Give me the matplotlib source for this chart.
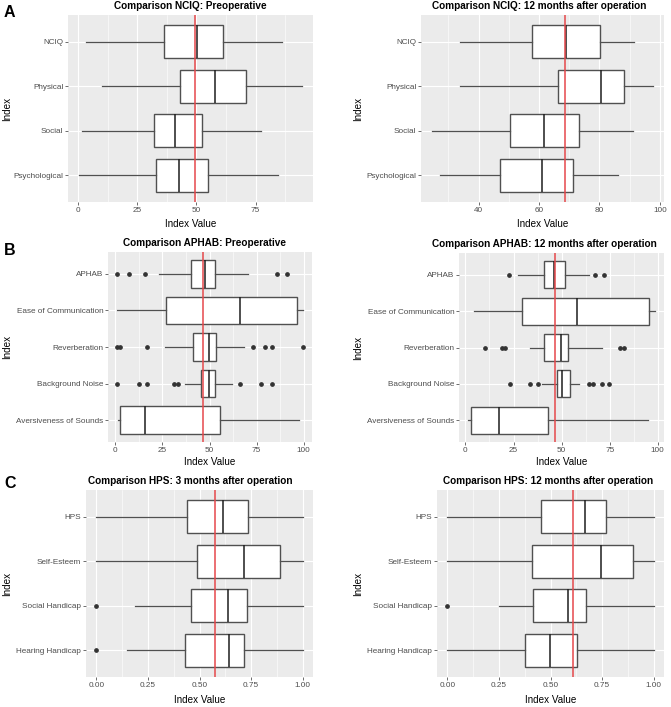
import numpy as np
import matplotlib
matplotlib.use("Agg")
import matplotlib.pyplot as plt
import matplotlib.transforms as mtransforms
from matplotlib.ticker import MultipleLocator

plt.rcParams["font.family"] = ["Liberation Sans", "DejaVu Sans"]

W, H = 671, 707

# A: NCIQ  (each row: whisker low, Q1, median, Q3, whisker high)
nciq_labels = ["NCIQ", "Physical", "Social", "Psychological"]
nciq_pre_stats = [[3.1, 36.5, 50.3, 61.4, 86.0],
                  [10.0, 42.9, 57.7, 71.0, 94.6],
                  [1.8, 32.1, 40.8, 52.3, 77.3],
                  [0.4, 32.7, 42.6, 55.1, 84.7]]
nciq_pre_fliers = [[], [], [], []]
nciq_pre_mean = 49.6
nciq_post_stats = [[33.7, 57.8, 68.8, 80.1, 91.3],
                   [33.7, 66.2, 80.5, 88.1, 97.7],
                   [24.6, 50.3, 61.6, 73.1, 91.1],
                   [27.1, 47.2, 60.9, 71.2, 86.1]]
nciq_post_fliers = [[], [], [], []]
nciq_post_mean = 68.6

# B: APHAB
aphab_labels = ["APHAB", "Ease of Communication", "Reverberation",
                "Background Noise", "Aversiveness of Sounds"]
aphab_pre_stats = [[23.0, 40.2, 47.5, 53.0, 70.4],
                   [1.0, 27.0, 66.3, 96.6, 99.5],
                   [26.6, 41.3, 49.8, 53.7, 68.3],
                   [36.9, 45.6, 49.8, 52.7, 62.2],
                   [1.5, 2.5, 15.8, 55.3, 97.3]]
aphab_pre_fliers = [[1.0, 7.0, 15.8, 86.0, 91.0],
                    [],
                    [1.0, 2.5, 16.8, 73.0, 79.6, 83.2, 99.5],
                    [1.0, 12.8, 16.8, 30.9, 33.2, 66.3, 77.1, 83.2],
                    []]
aphab_pre_mean = 46.6
aphab_post_stats = [[27.4, 41.1, 45.8, 51.7, 64.5],
                    [4.7, 29.4, 58.2, 95.3, 98.4],
                    [33.4, 41.1, 49.8, 53.5, 71.0],
                    [39.7, 47.6, 50.2, 54.2, 59.1],
                    [1.5, 2.8, 17.5, 42.8, 94.9]]
aphab_post_fliers = [[22.4, 67.5, 72.0],
                     [],
                     [10.1, 19.2, 20.5, 80.6, 82.7],
                     [23.3, 33.7, 37.6, 64.0, 66.1, 70.8, 74.5],
                     []]
aphab_post_mean = 46.5

# C: HPS
hps_labels = ["HPS", "Self-Esteem", "Social Handicap", "Hearing Handicap"]
hps_3m_stats = [[0.0, 0.438, 0.613, 0.733, 1.0],
                [0.0, 0.488, 0.714, 0.888, 1.0],
                [0.188, 0.459, 0.636, 0.729, 1.0],
                [0.148, 0.432, 0.644, 0.714, 1.0]]
hps_3m_fliers = [[], [], [0.0], [0.0]]
hps_3m_mean = 0.575
hps_12m_stats = [[0.0, 0.452, 0.668, 0.768, 1.0],
                 [0.0, 0.412, 0.747, 0.902, 1.0],
                 [0.251, 0.417, 0.583, 0.670, 1.0],
                 [0.0, 0.375, 0.499, 0.626, 1.0]]
hps_12m_fliers = [[], [], [0.0], []]
hps_12m_mean = 0.607

ticks_0_75 = [0, 25, 50, 75]
ticks_0_100 = [0, 25, 50, 75, 100]
ticks_40_100 = [40, 60, 80, 100]
ticks_0_1 = [0.0, 0.25, 0.5, 0.75, 1.0]

EDGE = "#505050"


def px_axes(fig, box):
    left, top, right, bottom = box
    return fig.add_axes([left / W, 1 - bottom / H, (right - left) / W, (bottom - top) / H])


def draw_panel(fig, box, labels, stats, fliers, mean, ticks, tick_fmt, title,
               title_x, ylab_x, xlab_y):
    ax = px_axes(fig, box)
    n = len(labels)
    pos = np.arange(n, 0, -1)
    bstats = []
    for s, f in zip(stats, fliers):
        bstats.append({"whislo": s[0], "q1": s[1], "med": s[2], "q3": s[3],
                       "whishi": s[4], "fliers": f})
    ax.bxp(bstats, positions=pos, widths=0.75, orientation="horizontal",
           patch_artist=True, showcaps=False,
           boxprops=dict(facecolor="white", edgecolor=EDGE, linewidth=1.0),
           whiskerprops=dict(color=EDGE, linewidth=0.9),
           medianprops=dict(color="#1E1E1E", linewidth=1.1),
           flierprops=dict(marker="o", markersize=2.4, markerfacecolor="#333333",
                           markeredgecolor="#333333"))
    ax.axvline(mean, color="#E5484B", linewidth=1.1, zorder=4)

    vals = [v for s in stats for v in s] + [v for f in fliers for v in f]
    lo, hi = min(vals), max(vals)
    pad = 0.05 * (hi - lo)
    ax.set_xlim(lo - pad, hi + pad)
    ax.set_ylim(0.4, n + 0.6)

    ax.set_xticks(ticks, [tick_fmt.format(t) for t in ticks])
    step = ticks[1] - ticks[0]
    ax.xaxis.set_minor_locator(MultipleLocator(step / 2))
    ax.set_yticks(pos, labels)

    ax.set_facecolor("#EBEBEB")
    for sp in ax.spines.values():
        sp.set_visible(False)
    ax.set_axisbelow(True)
    ax.grid(True, which="major", color="white", linewidth=0.8)
    ax.grid(True, which="minor", axis="x", color="white", linewidth=0.4)
    ax.tick_params(which="major", length=2, width=0.5, color="#333333",
                   labelcolor="#4D4D4D", labelsize=5.9, pad=1.5)
    ax.tick_params(which="minor", length=0)

    left, top, right, bottom = box
    ax.set_title(title, fontsize=7.2, fontweight="bold", pad=4,
                 x=(title_x - left) / (right - left))
    ax.set_xlabel("Index Value", fontsize=7.1)
    ax.set_ylabel("Index", fontsize=7.1)
    ax.xaxis.set_label_coords(0.5, 1 - xlab_y / H,
                              transform=mtransforms.blended_transform_factory(ax.transAxes, fig.transFigure))
    ax.yaxis.set_label_coords(ylab_x / W, 0.5,
                              transform=mtransforms.blended_transform_factory(fig.transFigure, ax.transAxes))
    return ax


fig = plt.figure(figsize=(W / 100, H / 100), dpi=100)

draw_panel(fig, (68, 15, 313, 202), nciq_labels, nciq_pre_stats, nciq_pre_fliers,
           nciq_pre_mean, ticks_0_75, "{:g}", "Comparison NCIQ: Preoperative",
           190, 12, 219)
draw_panel(fig, (421, 15, 664, 202), nciq_labels, nciq_post_stats, nciq_post_fliers,
           nciq_post_mean, ticks_40_100, "{:g}", "Comparison NCIQ: 12 months after operation",
           539.5, 363, 219)

draw_panel(fig, (108, 252, 312, 442), aphab_labels, aphab_pre_stats, aphab_pre_fliers,
           aphab_pre_mean, ticks_0_100, "{:g}", "Comparison APHAB: Preoperative",
           205, 12, 457)
draw_panel(fig, (459, 253, 664, 442), aphab_labels, aphab_post_stats, aphab_post_fliers,
           aphab_post_mean, ticks_0_100, "{:g}", "Comparison APHAB: 12 months after operation",
           544, 363, 457)

draw_panel(fig, (86, 490, 313, 677), hps_labels, hps_3m_stats, hps_3m_fliers,
           hps_3m_mean, ticks_0_1, "{:.2f}", "Comparison HPS: 3 months after operation",
           190, 12, 695)
draw_panel(fig, (437, 490, 664, 677), hps_labels, hps_12m_stats, hps_12m_fliers,
           hps_12m_mean, ticks_0_1, "{:.2f}", "Comparison HPS: 12 months after operation",
           548, 363, 695)

for letter, y in [("A", 5), ("B", 243), ("C", 476)]:
    fig.text(4 / W, 1 - y / H, letter, fontsize=11.5, fontweight="bold", va="top", ha="left")

fig.savefig("out.png", dpi=100)
